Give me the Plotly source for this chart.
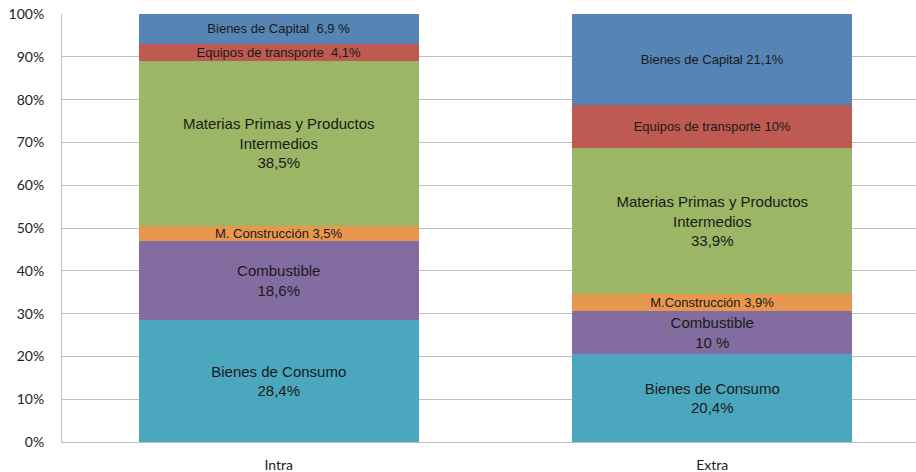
import plotly.graph_objects as go

categories = ["Intra", "Extra"]
series_names = ["Bienes de Consumo", "Combustible", "M. Construcción",
                "Materias Primas y Productos Intermedios", "Equipos de transporte", "Bienes de Capital"]
intra_values = [28.4, 18.6, 3.5, 38.5, 4.1, 6.9]
extra_values = [20.4, 10.0, 3.9, 33.9, 10.0, 21.1]
intra_labels = ["Bienes de Consumo<br>28,4%", "Combustible<br>18,6%", "M. Construcción 3,5%",
                "Materias Primas y Productos<br>Intermedios<br>38,5%",
                "Equipos de transporte  4,1%", "Bienes de Capital  6,9 %"]
extra_labels = ["Bienes de Consumo<br>20,4%", "Combustible<br>10 %", "M.Construcción 3,9%",
                "Materias Primas y Productos<br>Intermedios<br>33,9%",
                "Equipos de transporte 10%", "Bienes de Capital 21,1%"]
y_ticks = [0, 10, 20, 30, 40, 50, 60, 70, 80, 90, 100]

colors = ["#4aa7be", "#836c9f", "#e8974f", "#9bb664", "#bf5a52", "#5584b5"]
label_sizes = [[15, 15], [15, 15], [13, 13], [15, 15], [13, 13], [13, 13]]

fig = go.Figure()
for i, name in enumerate(series_names):
    fig.add_trace(go.Bar(
        x=categories,
        y=[intra_values[i], extra_values[i]],
        name=name,
        text=[intra_labels[i], extra_labels[i]],
        textposition="inside",
        insidetextanchor="middle",
        constraintext="none",
        textangle=0,
        textfont=dict(family="Liberation Sans, Arial, sans-serif", size=label_sizes[i], color="#1a1a1a"),
        marker=dict(color=colors[i], line=dict(width=0)),
        width=0.646,
    ))

fig.update_layout(
    barmode="stack",
    barnorm="percent",
    width=916, height=472,
    margin=dict(l=62, r=0, t=14, b=30, autoexpand=False),
    paper_bgcolor="white", plot_bgcolor="white",
    showlegend=False,
    font=dict(family="Lato, Open Sans, sans-serif", size=14, color="#222"),
    xaxis=dict(range=[-0.5, 1.47], showgrid=False, showline=True, linecolor="#bfbfbf",
               linewidth=1, ticks="", ticklabelstandoff=10, automargin=False,
               ticklabeloverflow="allow",
               tickfont=dict(family="Lato, sans-serif", size=14, color="#222")),
    yaxis=dict(range=[0, 100], tickvals=y_ticks, ticktext=[f"{v}%" for v in y_ticks],
               showgrid=True, gridcolor="#bfbfbf", gridwidth=1, showline=True,
               linecolor="#bfbfbf", linewidth=1, zeroline=False, ticks="",
               ticklabelstandoff=14, automargin=False, ticklabeloverflow="allow",
               tickfont=dict(family="Lato, sans-serif", size=14, color="#222")),
)

fig.write_html("out.html", config={"displayModeBar": False},
               post_script="document.body.style.margin='0';document.body.style.padding='0';")
